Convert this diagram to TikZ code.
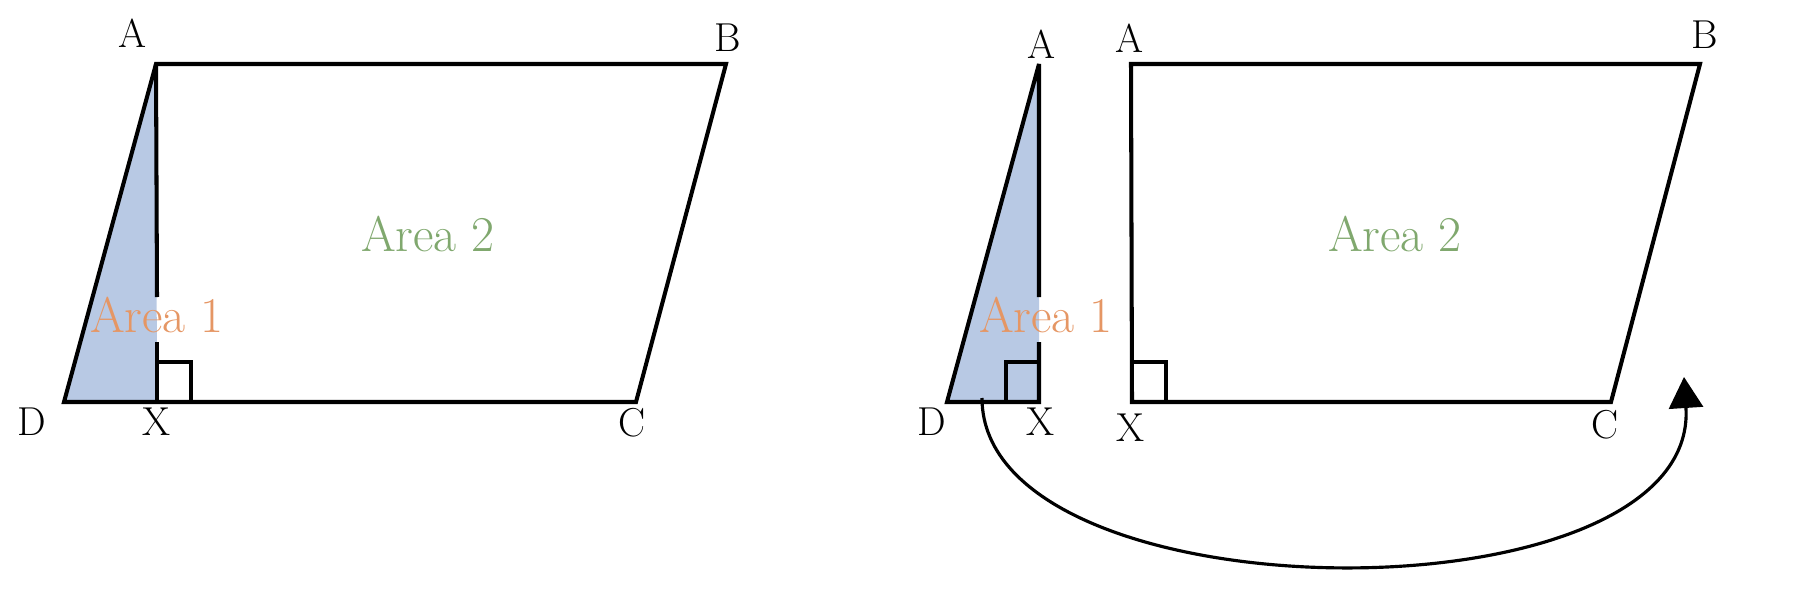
\documentclass[tikz,border=0pt]{standalone}
\usepackage{tikz}
\usetikzlibrary{arrows.meta}
\definecolor{shadeblue}{RGB}{184,201,228}
\definecolor{areagreen}{RGB}{128,168,110}
\definecolor{areaorange}{RGB}{229,150,100}

\begin{document}
\begin{tikzpicture}[x=0.02cm,y=-0.02cm]
    \tikzstyle{edge}=[black, line width=2.3pt, line join=miter, miter limit=3]
    \tikzstyle{pt}=[font=\fontsize{23}{27}\selectfont, inner sep=0pt]
    \tikzstyle{area}=[font=\fontsize{28.5}{33}\selectfont, inner sep=0pt]
    \useasboundingbox (0,0) rectangle (1793,592);
    \coordinate (A1) at (156,64);
    \coordinate (B1) at (726,64);
    \coordinate (C1) at (636,402);
    \coordinate (D1) at (64,402);
    \coordinate (X1) at (157,402);
    \coordinate (G1) at (157,297);
    \coordinate (H1) at (157,342);
    \fill [shadeblue] (A1) -- (D1) -- (X1) -- cycle;
    \draw [edge] (A1) -- (B1) -- (C1) -- (D1) -- cycle;
    \draw [edge] (A1) -- (G1);
    \draw [edge] (H1) -- (X1);
    \draw [edge] (157,362) -- (191,362) -- (191,402);
    \node [pt] (lA1) at (133,33) {A};
    \node [pt] (lB1) at (728,38) {B};
    \node [pt] (lD1) at (32,422) {D};
    \node [pt] (lX1) at (157,422) {X};
    \node [pt] (lC1) at (632,423) {C};
    \node [area, areagreen] (ar21) at (428,234) {Area 2};
    \node [area, areaorange] (ar11) at (157,315) {Area 1};
    \coordinate (A2) at (1039,64);
    \coordinate (D2) at (947,402);
    \coordinate (X2) at (1039,402);
    \coordinate (G2) at (1039,297);
    \coordinate (H2) at (1039,342);
    \fill [shadeblue] (A2) -- (D2) -- (X2) -- cycle;
    \draw [edge] (G2) -- (A2) -- (D2) -- (X2) -- (H2);
    \draw [edge] (1039,362) -- (1006,362) -- (1006,402);
    \coordinate (A3) at (1131,64);
    \coordinate (B3) at (1700,64);
    \coordinate (C3) at (1611,402);
    \coordinate (X3) at (1132,402);
    \draw [edge] (A3) -- (B3) -- (C3) -- (X3) -- cycle;
    \draw [edge] (1132,362) -- (1166,362) -- (1166,402);
    \node [pt] (lA2) at (1041,44) {A};
    \node [pt] (lA3) at (1129,38) {A};
    \node [pt] (lB3) at (1705,35) {B};
    \node [pt] (lD2) at (932,422) {D};
    \node [pt] (lX2) at (1040,422) {X};
    \node [pt] (lX3) at (1130,428) {X};
    \node [pt] (lC3) at (1605,425) {C};
    \node [area, areagreen] (ar23) at (1395,234) {Area 2};
    \node [area, areaorange] (ar12) at (1046,315) {Area 1};
    \coordinate (s) at (982,398);
    \coordinate (t) at (1684,377);
    \draw [black, line width=1.8pt, -{Triangle[length=0.62cm,width=0.68cm]}] (s) .. controls (982,621) and (1700,625) .. (t);
\end{tikzpicture}
\end{document}
